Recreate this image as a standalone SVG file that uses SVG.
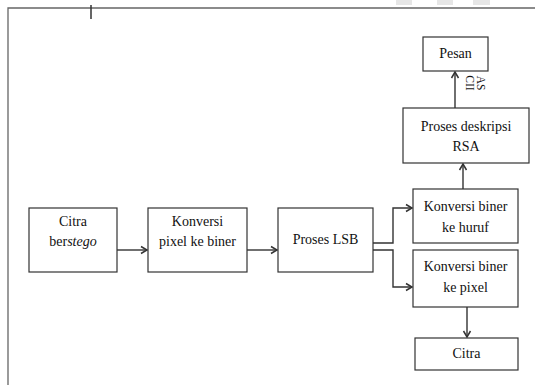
<svg xmlns="http://www.w3.org/2000/svg" width="535" height="385" viewBox="0 0 535 385">
<style>
.box{fill:#fff;stroke:#333;stroke-width:1.2}
.t{font-family:'Liberation Serif','Times New Roman','DejaVu Serif',serif;font-size:14px;fill:#111;text-anchor:middle}
.c{fill:none;stroke:#333;stroke-width:1.4}
.frame{fill:none;stroke:#666;stroke-width:1.3}
</style>
<defs>
<marker id="ah" markerWidth="10" markerHeight="10" refX="8" refY="5" orient="auto" markerUnits="userSpaceOnUse">
<path d="M2,1.5 L8,5 L2,8.5" fill="none" stroke="#333" stroke-width="1.5"/>
</marker>
</defs>
<rect width="535" height="385" fill="#fff"/>
<g id="decor">
<rect x="396" y="0" width="16" height="5" fill="#e6e6e6"/>
<rect x="437" y="0" width="16" height="5" fill="#e6e6e6"/>
<rect x="473" y="0" width="17" height="5" fill="#e6e6e6"/>
<path class="frame" d="M8,385 V8 H535"/>
<line x1="91" y1="5" x2="91" y2="19" stroke="#333" stroke-width="1.5"/>
</g>
<g id="connectors">
<path class="c" d="M117,250 H147" marker-end="url(#ah)"/>
<path class="c" d="M247,250 H277" marker-end="url(#ah)"/>
<path class="c" d="M373,243 H393 V208 H412" marker-end="url(#ah)"/>
<path class="c" d="M373,250 H393 V287 H412" marker-end="url(#ah)"/>
<path class="c" d="M463,189 V164" marker-end="url(#ah)"/>
<path class="c" d="M455,108 V72" marker-end="url(#ah)"/>
<path class="c" d="M467,307 V337" marker-end="url(#ah)"/>
<text class="t" transform="translate(474,83) rotate(90)" style="font-size:11.5px"><tspan x="0" y="-3">AS</tspan><tspan x="0" y="8">CII</tspan></text>
</g>
<g id="citra-berstego">
<rect class="box" x="29" y="208" width="88" height="64"/>
<text class="t" x="73" y="226">Citra</text>
<text class="t" x="73" y="246">ber<tspan font-style="italic">stego</tspan></text>
</g>
<g id="konversi-pixel">
<rect class="box" x="148" y="208" width="99" height="64"/>
<text class="t" x="197.5" y="226">Konversi</text>
<text class="t" x="197.5" y="246">pixel ke biner</text>
</g>
<g id="proses-lsb">
<rect class="box" x="278" y="208" width="95" height="64"/>
<text class="t" x="325.5" y="244">Proses LSB</text>
</g>
<g id="konversi-huruf">
<rect class="box" x="413" y="189" width="105" height="54"/>
<text class="t" x="465.5" y="211">Konversi biner</text>
<text class="t" x="465.5" y="232">ke huruf</text>
</g>
<g id="konversi-pixel2">
<rect class="box" x="413" y="250" width="105" height="57"/>
<text class="t" x="465.5" y="271">Konversi biner</text>
<text class="t" x="465.5" y="292">ke pixel</text>
</g>
<g id="citra">
<rect class="box" x="415" y="338" width="103" height="32"/>
<text class="t" x="466.5" y="358">Citra</text>
</g>
<g id="proses-rsa">
<rect class="box" x="403" y="108" width="126" height="55"/>
<text class="t" x="466" y="131">Proses deskripsi</text>
<text class="t" x="466" y="151">RSA</text>
</g>
<g id="pesan">
<rect class="box" x="423" y="37" width="65" height="34"/>
<text class="t" x="455.5" y="58">Pesan</text>
</g>
</svg>
